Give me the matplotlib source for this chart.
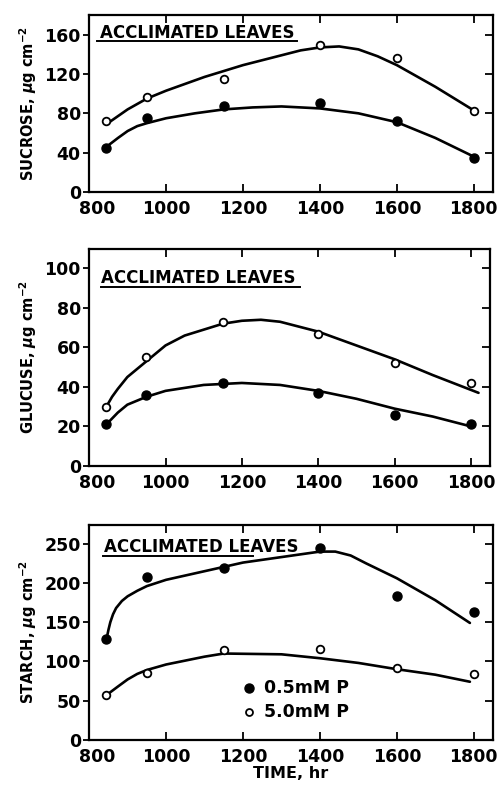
import numpy as np
import matplotlib
matplotlib.use('Agg')
import matplotlib.pyplot as plt
import matplotlib.transforms as mtransforms

plt.rcParams['font.family'] = ['DejaVu Sans']
plt.rcParams['font.weight'] = 'bold'

# sampling times (hr)
time = [845, 950, 1150, 1400, 1600, 1800]

# measured points
sucrose_low = [45, 75, 87, 90, 72, 35]
sucrose_high = [72, 97, 115, 149, 136, 82]
glucose_low = [21, 36, 42, 37, 26, 21]
glucose_high = [30, 55, 73, 67, 52, 42]
starch_low = [128, 208, 219, 244, 183, 163]
starch_high = [57, 85, 115, 116, 92, 84]

# hand-drawn curves
sucrose_low_cx = [845, 875, 900, 925, 950, 1000, 1075, 1150, 1225, 1300, 1400, 1500, 1600, 1700, 1800]
sucrose_low_cy = [46, 55, 62, 67, 70, 75, 80, 84, 86, 87, 85, 80, 71, 55, 36]
sucrose_high_cx = [845, 900, 950, 1000, 1100, 1200, 1300, 1350, 1400, 1450, 1500, 1550, 1600, 1700, 1800]
sucrose_high_cy = [69, 84, 95, 103, 117, 129, 139, 144, 147, 148, 145, 138, 129, 107, 83]
glucose_low_cx = [845, 860, 875, 900, 925, 950, 1000, 1100, 1200, 1300, 1400, 1500, 1600, 1700, 1800]
glucose_low_cy = [21, 24, 27, 31, 33, 35, 38, 41, 42, 41, 38, 34, 29, 25, 20]
glucose_high_cx = [845, 860, 875, 900, 925, 950, 1000, 1050, 1100, 1150, 1200, 1250, 1300, 1400, 1500, 1600, 1700, 1820]
glucose_high_cy = [30, 35, 39, 45, 49, 53, 61, 66, 69, 72, 73.5, 74, 73, 68, 61, 54, 46, 37]
starch_low_cx = [845, 850, 855, 862, 870, 885, 900, 925, 950, 1000, 1100, 1200, 1300, 1400, 1440, 1480, 1520, 1600, 1700, 1790]
starch_low_cy = [128, 140, 150, 160, 168, 177, 183, 190, 196, 204, 215, 226, 233, 240, 240, 235, 225, 206, 178, 149]
starch_high_cx = [845, 875, 900, 925, 950, 1000, 1050, 1100, 1150, 1300, 1400, 1500, 1600, 1700, 1790]
starch_high_cy = [57, 68, 77, 84, 89, 96, 101, 106, 110, 109, 104, 98, 90, 83, 74]

fig = plt.figure(figsize=(5.01, 7.87), dpi=100)

panels = [
    ([0.178, 0.756, 0.806, 0.225], 'SUCROSE, $\\mu$g cm$^{-2}$', (0, 180), [0, 40, 80, 120, 160],
     sucrose_low, sucrose_high, (sucrose_low_cx, sucrose_low_cy), (sucrose_high_cx, sucrose_high_cy)),
    ([0.178, 0.408, 0.800, 0.276], 'GLUCUSE, $\\mu$g cm$^{-2}$', (0, 110), [0, 20, 40, 60, 80, 100],
     glucose_low, glucose_high, (glucose_low_cx, glucose_low_cy), (glucose_high_cx, glucose_high_cy)),
    ([0.178, 0.060, 0.806, 0.273], 'STARCH, $\\mu$g cm$^{-2}$', (0, 274), [0, 50, 100, 150, 200, 250],
     starch_low, starch_high, (starch_low_cx, starch_low_cy), (starch_high_cx, starch_high_cy)),
]

axes = []
for rect, ylab, ylim, yticks, low, high, clow, chigh in panels:
    ax = fig.add_axes(rect)
    ax.plot(clow[0], clow[1], color='black', lw=1.9, solid_capstyle='round', solid_joinstyle='round')
    ax.plot(chigh[0], chigh[1], color='black', lw=1.9, solid_capstyle='round', solid_joinstyle='round')
    ax.plot(time, low, 'o', ms=6.5, color='black', zorder=3)
    ax.plot(time, high, 'o', ms=5.5, mfc='white', mec='black', mew=1.3, zorder=3)
    ax.set_xlim(800, 1850)
    ax.set_ylim(*ylim)
    ax.set_xticks([800, 1000, 1200, 1400, 1600, 1800])
    ax.set_yticks(yticks)
    ax.tick_params(axis='x', direction='in', top=True, length=6, width=1.3, labelsize=12.5, pad=6)
    ax.tick_params(axis='y', direction='out', right=False, length=4, width=1.3, labelsize=12.5, pad=2)
    # inward ticks on the right side
    sec = ax.secondary_yaxis('right')
    sec.set_yticks(yticks)
    sec.tick_params(direction='in', length=6, width=1.3, labelright=False)
    sec.spines['right'].set_visible(False)
    for s in ax.spines.values():
        s.set_linewidth(1.6)
    ax.set_ylabel(ylab, fontsize=10.5, fontweight='bold', labelpad=4)
    # shift the "800" label a bit to the right
    lbl = ax.get_xticklabels()[0]
    lbl.set_transform(lbl.get_transform() + mtransforms.ScaledTranslation(8 / 100, 0, fig.dpi_scale_trans))
    axes.append(ax)

# titles with underline: (text x, baseline y, underline start, underline end, underline y)
title_pos = [(0.027, 0.872, 0.020, 0.515, 0.853),
             (0.030, 0.843, 0.030, 0.525, 0.825),
             (0.037, 0.874, 0.035, 0.406, 0.856)]
for ax, (tx, ty, u0, u1, uy) in zip(axes, title_pos):
    ax.text(tx, ty, 'ACCLIMATED LEAVES', transform=ax.transAxes, fontsize=12,
            fontweight='bold', ha='left', va='baseline')
    ax.plot([u0, u1], [uy, uy], transform=ax.transAxes,
            color='black', lw=1.4, clip_on=False)

axes[2].set_xlabel('TIME, hr', fontsize=11.5, fontweight='bold', labelpad=0)

# legend in the starch panel
ax = axes[2]
ax.plot([1215], [66], 'o', ms=6.5, color='black')
ax.plot([1215], [35], 'o', ms=5, mfc='white', mec='black', mew=1.3)
ax.text(1255, 66, '0.5mM P', fontsize=12.5, fontweight='bold', va='center')
ax.text(1255, 35, '5.0mM P', fontsize=12.5, fontweight='bold', va='center')

fig.savefig('out.png', dpi=100)
